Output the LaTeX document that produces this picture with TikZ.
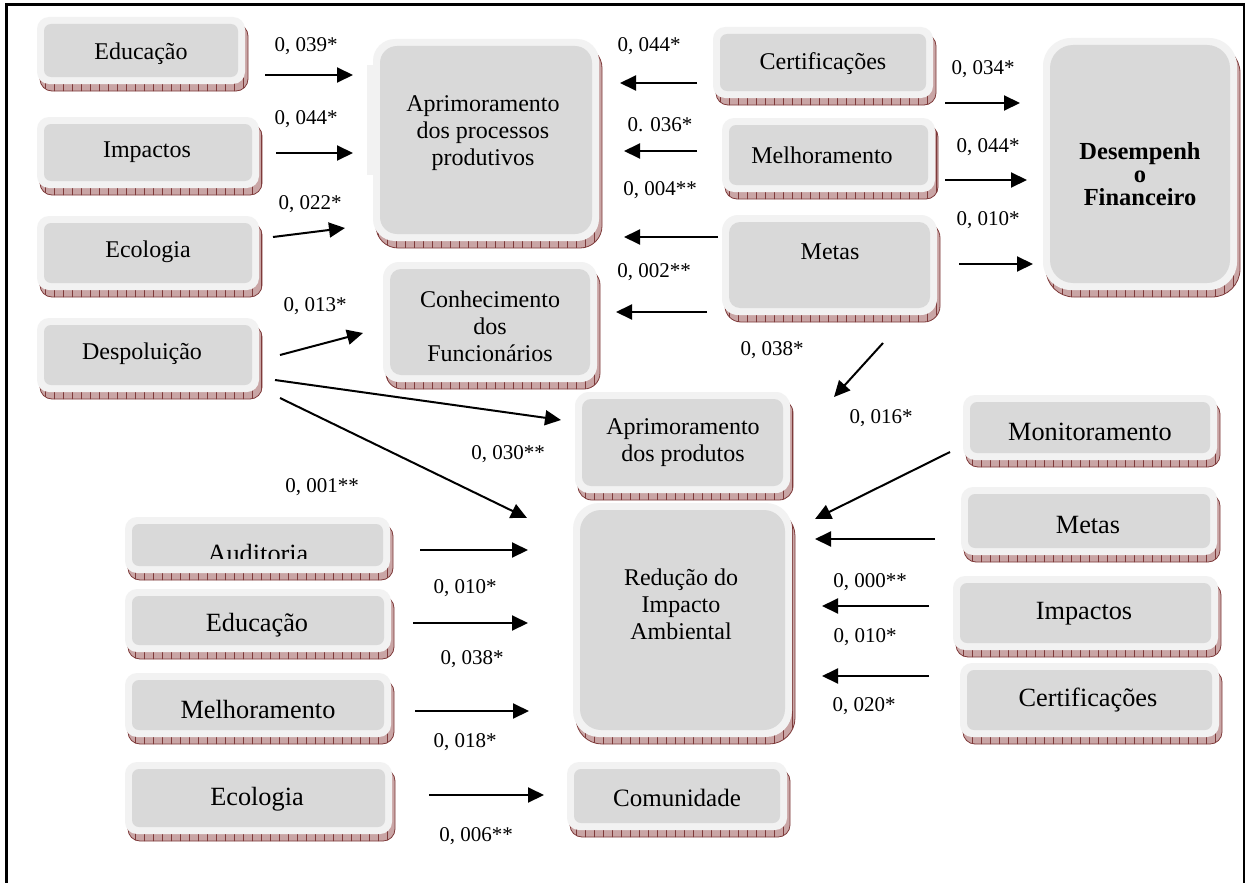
\documentclass[tikz,border=0pt]{standalone}
\usepackage{fontspec}
\setmainfont{Liberation Serif}
\usetikzlibrary{arrows.meta,patterns.meta}

\definecolor{framegray}{HTML}{F2F2F2}
\definecolor{innergray}{HTML}{D9D9D9}
\definecolor{shadowpink}{HTML}{C9A5A5}
\definecolor{shadowred}{HTML}{7E3A3A}

\tikzset{
  conn/.style={line width=2pt, -{Triangle[length=16pt,width=15pt]}},
  lbl/.style={font=\fontsize{21}{24}\selectfont, inner sep=0pt},
  txt/.style={font=\fontsize{24}{27}\selectfont, align=center, inner sep=0pt},
  txtbig/.style={font=\fontsize{26.3}{30}\selectfont, align=center, inner sep=0pt},
  txtbold/.style={font=\fontsize{24.5}{23}\selectfont\bfseries, align=center, inner sep=0pt},
  boxnode/.style={inner sep=0pt, outer sep=0pt},
}

% bevelled box with a hatched drop shadow:
% name, left, top, width, height, corner radius
\newcommand\cbox[6]{%
  \path[fill=shadowpink, draw=shadowred, line width=0.8pt,
        rounded corners=#6pt,
        postaction={pattern={Lines[angle=90,distance=9pt,line width=0.6pt]},
                    pattern color=shadowred}]
    (#2+3,#3+7) rectangle (#2+#4+3,#3+#5+7);
  \fill[framegray, rounded corners=#6pt] (#2,#3) rectangle (#2+#4,#3+#5);
  \fill[innergray, rounded corners=\the\dimexpr#6pt-5pt\relax]
    (#2+7,#3+7) rectangle (#2+#4-7,#3+#5-7);
  \node[boxnode, minimum width=#4pt, minimum height=#5pt]
    (#1) at (#2+#4/2,#3+#5/2) {};
}

% arrow between two boxes, each end given as an offset from the box centre
\newcommand\conn[4]{%
  \draw[conn] ([shift={(#2)}]#1.center) -- ([shift={(#4)}]#3.center);
}

\begin{document}
\begin{tikzpicture}[x=1pt, y=-1pt]
\useasboundingbox (0,0) rectangle (1247,883);
\fill[white] (0,0) rectangle (1247,883);

% outer frame (open at the bottom)
\draw[line width=2.5pt] (6.5,883) -- (6.5,4.5) -- (1244,4.5) -- (1244,883);

% ---- upper left drivers
\cbox{edu1}{37}{17}{208}{67}{12}
\cbox{imp1}{37}{117}{222}{71}{12}
\cbox{eco1}{37}{216}{222}{74}{12}
\cbox{desp}{37}{318}{222}{74}{12}
\node[txt] (t-edu1) at (141,54) {Educação};
\node[txt] (t-imp1) at (147,152) {Impactos};
\node[txt] (t-eco1) at (148,252) {Ecologia};
\node[txt] (t-desp) at (142,354) {Despoluição};

% ---- central outcomes
\fill[framegray] (367,65) rectangle (376,175);
\cbox{apr1}{373}{39}{226}{202}{22}
\node[txt] (t-apr1) at (483,133) {Aprimoramento\\dos processos\\produtivos};
\cbox{con}{383}{262}{214}{120}{16}
\node[txt] (t-con) at (490,326) {Conhecimento\\dos\\Funcionários};
\cbox{apr2}{575}{392}{215}{101}{14}
\node[txt] (t-apr2) at (683,443) {Aprimoramento\\dos produtos};
\cbox{red}{573}{503}{219}{234}{26}
\node[txt] (t-red) at (681,604) {Redução do\\Impacto\\Ambiental};
\cbox{com}{567}{762}{220}{68}{12}
\node[font=\fontsize{25}{28}\selectfont, inner sep=0pt] (t-com) at (677,798) {Comunidade};

% ---- upper right drivers
\cbox{cert1}{713}{27}{220}{71}{12}
\cbox{mel1}{722}{118}{213}{74}{12}
\cbox{met1}{722}{215}{215}{100}{16}
\node[txt] (t-cert1) at (823,64) {Certificações};
\node[txt] (t-mel1) at (822,155) {Melhoramento};
\node[txt] (t-met1) at (830,252) {Metas};

% ---- financial performance
\cbox{des}{1043}{38}{194}{252}{28}
\node[txtbold] (t-des) at (1140,174) {Desempenh\\o\\Financeiro};

% ---- right column drivers
\cbox{mon}{963}{395}{254}{65}{12}
\cbox{met2}{961}{487}{256}{68}{12}
\cbox{imp2}{953}{576}{265}{74}{12}
\cbox{cer2}{960}{663}{259}{74}{12}
\node[txtbig] (t-mon) at (1090,432) {Monitoramento};
\node[txtbig] (t-met2) at (1088,525) {Metas};
\node[txtbig] (t-imp2) at (1084,614) {Impactos};
\node[txtbig] (t-cer2) at (1088,700) {Certificações};

% ---- lower left drivers
\cbox{aud}{125}{517}{265}{56}{12}
\cbox{edu2}{125}{589}{266}{63}{12}
\cbox{mel2}{125}{673}{266}{64}{12}
\cbox{eco2}{125}{762}{267}{72}{12}
\begin{scope}
  \clip (125,500) rectangle (390,558.5);
  \node[txtbig] (t-aud) at (258,553) {Auditoria};
\end{scope}
\node[txtbig] (t-edu2) at (257,625) {Educação};
\node[txtbig] (t-mel2) at (258,709) {Melhoramento};
\node[txtbig] (t-eco2) at (257,799) {Ecologia};

% ---- connectors
\conn{edu1}{124,24.5}{apr1}{-133,-65}
\conn{imp1}{128,0.5}{apr1}{-133,13}
\conn{eco1}{125,-16}{apr1}{-141,88}
\conn{desp}{132,0}{con}{-127,11}
\conn{desp}{127,25}{apr2}{-121.5,-22.5}
\conn{desp}{132,43}{red}{-155.5,-102}
\conn{cert1}{-126,20.5}{apr1}{134,-57}
\conn{mel1}{-131.5,-4}{apr1}{138,11}
\conn{met1}{-111.5,-28}{apr1}{138,97}
\conn{met1}{-122.5,47}{con}{126,-10}
\conn{cert1}{122,40.5}{des}{-120,-61}
\conn{mel1}{116.5,25}{des}{-113,16}
\conn{met1}{129.5,-1}{des}{-107,100}
\conn{met1}{53.5,78}{apr2}{151.5,-45.5}
\conn{mon}{-140,24.5}{red}{132.5,-101}
\conn{met2}{-154,18}{red}{132.5,-81}
\conn{imp2}{-156.5,-7}{red}{139.5,-14}
\conn{cer2}{-160.5,-24}{red}{139.5,56}
\conn{aud}{162.5,5}{red}{-154.5,-70}
\conn{edu2}{155,2.5}{red}{-154.5,3}
\conn{mel2}{157,6}{red}{-153.5,91}
\conn{eco2}{170.5,-3}{com}{-133,-1}

% ---- coefficients
\node[lbl] (l1)  at (306,46)  {0, 039*};
\node[lbl] (l2)  at (306,119) {0, 044*};
\node[lbl] (l3)  at (310,204) {0, 022*};
\node[lbl] (l4)  at (315,306) {0, 013*};
\node[lbl] (l5)  at (508,454) {0, 030**};
\node[lbl] (l6)  at (322,487) {0, 001**};
\node[lbl] (l7)  at (649,46)  {0, 044*};
\node[lbl] (l8)  at (660,125) {0. 036*};
\node[lbl] (l9)  at (660,190) {0, 004**};
\node[lbl] (l10) at (654,272) {0, 002**};
\node[lbl] (l11) at (983,69)  {0, 034*};
\node[lbl] (l12) at (988,147) {0, 044*};
\node[lbl] (l13) at (988,220) {0, 010*};
\node[lbl] (l14) at (772,350) {0, 038*};
\node[lbl] (l15) at (881,418) {0, 016*};
\node[lbl] (l16) at (870,582) {0, 000**};
\node[lbl] (l17) at (865,637) {0, 010*};
\node[lbl] (l18) at (864,706) {0, 020*};
\node[lbl] (l19) at (465,588) {0, 010*};
\node[lbl] (l20) at (472,659) {0, 038*};
\node[lbl] (l21) at (465,742) {0, 018*};
\node[lbl] (l22) at (476,836) {0, 006**};
\end{tikzpicture}
\end{document}
